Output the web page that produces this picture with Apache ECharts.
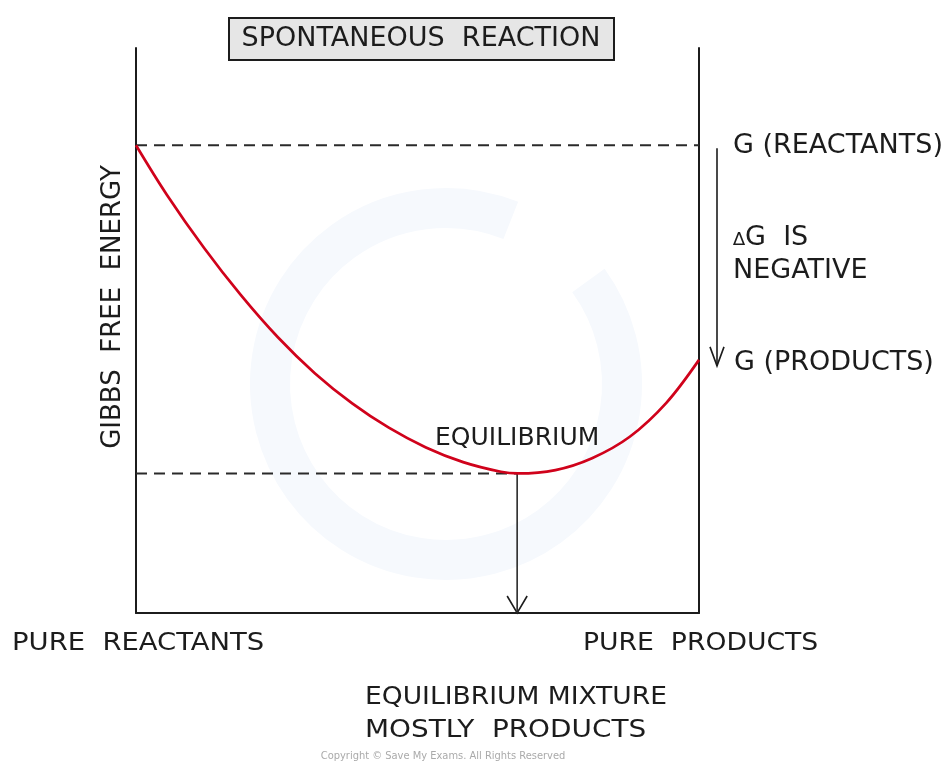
<!DOCTYPE html>
<html>
<head>
<meta charset="utf-8">
<script src="https://cdn.jsdelivr.net/npm/echarts@6/dist/echarts.min.js"></script>
<style>
html,body{margin:0;padding:0;background:#fff;}
#c{width:952px;height:763px;}
</style>
</head>
<body>
<div id="c"></div>
<script>
// Reaction progress (0 = pure reactants, 1 = pure products)
const progress = [0, 0.055, 0.121, 0.186, 0.252, 0.318, 0.384, 0.449, 0.515, 0.581, 0.648, 0.679, 0.745, 0.810, 0.877, 0.942, 1.0];
// Gibbs free energy (arbitrary units)
const gibbs = [82.8, 74.0, 64.6, 56.3, 48.8, 42.4, 37.1, 32.8, 29.3, 26.7, 25.0, 24.7, 25.3, 27.4, 31.2, 37.2, 44.8];
const gReactants = 82.8;
const gProducts = 44.8;
const xEquilibrium = 0.677;
const gEquilibrium = 24.7;

const titleText = 'SPONTANEOUS  REACTION';
const yAxisTitle = 'GIBBS  FREE  ENERGY';
const leftEndLabel = 'PURE  REACTANTS';
const rightEndLabel = 'PURE  PRODUCTS';
const eqLabel = 'EQUILIBRIUM';
const eqNote = ['EQUILIBRIUM MIXTURE', 'MOSTLY  PRODUCTS'];
const gReactLabel = 'G (REACTANTS)';
const gProdLabel = 'G (PRODUCTS)';
const deltaSymbol = '\u2206';
const deltaLabel = ['G  IS', 'NEGATIVE'];
const copyright = 'Copyright \u00A9 Save My Exams. All Rights Reserved';

const INK = '#1c1c1c';
const RED = '#d0021b';
const FONT = '"DejaVu Sans", sans-serif';
const FONT_C = '"DejaVu Sans Condensed", "DejaVu Sans", sans-serif';

const chart = echarts.init(document.getElementById('c'));
const curveData = progress.map((x, i) => [x, gibbs[i]]);

chart.setOption({
  animation: false,
  grid: {left: 136, right: 253, top: 48, bottom: 150},
  xAxis: {type: 'value', min: 0, max: 1,
    axisLine: {show: true, onZero: false, lineStyle: {color: INK, width: 2}},
    axisTick: {show: false}, axisLabel: {show: false}, splitLine: {show: false}},
  yAxis: [
    {type: 'value', min: 0, max: 100, position: 'left',
      axisLine: {show: true, lineStyle: {color: INK, width: 2}},
      axisTick: {show: false}, axisLabel: {show: false}, splitLine: {show: false}},
    {type: 'value', min: 0, max: 100, position: 'right',
      axisLine: {show: true, lineStyle: {color: INK, width: 2}},
      axisTick: {show: false}, axisLabel: {show: false}, splitLine: {show: false}}
  ],
  series: [
    {type: 'line', data: [[0, gReactants], [1, gReactants]], symbol: 'none', silent: true,
      lineStyle: {color: '#2a2a2a', width: 2, type: [11, 7]}, z: 2},
    {type: 'line', data: [[0, gEquilibrium], [xEquilibrium, gEquilibrium]], symbol: 'none', silent: true,
      lineStyle: {color: '#2a2a2a', width: 2, type: [11, 7]}, z: 2},
    {type: 'line', data: [[xEquilibrium, gEquilibrium], [xEquilibrium, 0]], symbol: 'none', silent: true,
      lineStyle: {color: '#2a2a2a', width: 1.6}, z: 2},
    {type: 'line', data: curveData, smooth: 0.35, symbol: 'none', silent: true,
      lineStyle: {color: RED, width: 2.7}, z: 3}
  ]
});

function px(x, y) { return chart.convertToPixel({gridIndex: 0}, [x, y]); }

const pRight = px(1, 0);
const pEqBottom = px(xEquilibrium, 0);
const pEq = px(xEquilibrium, gEquilibrium);
const pReact = px(1, gReactants);
const pProd = px(1, gProducts);
const arrowX = pRight[0] + 18;
const labelX = pRight[0] + 34;

const g = [];
// faint watermark ring
g.push({type: 'arc', z: -10, shape: {cx: 446, cy: 384, r: 176, startAngle: -Math.PI * 0.2, endAngle: Math.PI * 1.62},
  style: {stroke: '#f6f9fd', lineWidth: 40, fill: null}, silent: true});
// title box
g.push({type: 'rect', shape: {x: 229, y: 18, width: 385, height: 42},
  style: {fill: '#e6e6e6', stroke: INK, lineWidth: 2}});
g.push({type: 'text', x: 421, y: 39, style: {text: titleText, font: '27px ' + FONT,
  fill: INK, textAlign: 'center', textVerticalAlign: 'middle'}});
// equilibrium arrowhead
g.push({type: 'polyline', shape: {points: [[pEqBottom[0] - 10, pEqBottom[1] - 17], [pEqBottom[0], pEqBottom[1]], [pEqBottom[0] + 10, pEqBottom[1] - 17]]},
  style: {stroke: INK, lineWidth: 1.6, fill: null}});
// delta G arrow
g.push({type: 'line', shape: {x1: arrowX, y1: pReact[1] + 3, x2: arrowX, y2: pProd[1] + 6},
  style: {stroke: INK, lineWidth: 1.6}});
g.push({type: 'polyline', shape: {points: [[arrowX - 7, pProd[1] - 13], [arrowX, pProd[1] + 6], [arrowX + 7, pProd[1] - 13]]},
  style: {stroke: INK, lineWidth: 1.6, fill: null}});
// right labels
g.push({type: 'text', x: labelX, y: pReact[1] + 1, style: {text: gReactLabel, font: '27px ' + FONT, fill: INK, textVerticalAlign: 'middle'}});
g.push({type: 'text', x: labelX + 1, y: pProd[1] + 3, style: {text: gProdLabel, font: '27px ' + FONT, fill: INK, textVerticalAlign: 'middle'}});
g.push({type: 'text', x: labelX, y: 238, style: {
  text: '{d|' + deltaSymbol + '}{n|' + deltaLabel[0] + '}',
  rich: {d: {font: '18px ' + FONT, fill: INK, verticalAlign: 'bottom', padding: [0, 0, 2, 0]}, n: {font: '27px ' + FONT, fill: INK}},
  textVerticalAlign: 'middle'}});
g.push({type: 'text', x: labelX, y: 271, style: {text: deltaLabel[1], font: '27px ' + FONT, fill: INK, textVerticalAlign: 'middle'}});
// equilibrium label
g.push({type: 'text', x: pEq[0], y: 438, style: {text: eqLabel, font: '25px ' + FONT, fill: INK, textAlign: 'center', textVerticalAlign: 'middle'}});
// y axis title
g.push({type: 'text', x: 113, y: 307, rotation: Math.PI / 2,
  style: {text: yAxisTitle, font: '26px ' + FONT, fill: INK, textAlign: 'center', textVerticalAlign: 'middle'}});
// bottom labels (condensed font stretched horizontally to match the wide lettering)
g.push({type: 'text', x: 12, y: 643, scaleX: 1.22, style: {text: leftEndLabel, font: '25px ' + FONT_C, fill: INK, textVerticalAlign: 'middle'}});
g.push({type: 'text', x: 583, y: 643, scaleX: 1.185, style: {text: rightEndLabel, font: '25px ' + FONT_C, fill: INK, textVerticalAlign: 'middle'}});
g.push({type: 'text', x: 365, y: 697, scaleX: 1.18, style: {text: eqNote[0], font: '25px ' + FONT_C, fill: INK, textVerticalAlign: 'middle'}});
g.push({type: 'text', x: 365, y: 730, scaleX: 1.24, style: {text: eqNote[1], font: '25px ' + FONT_C, fill: INK, textVerticalAlign: 'middle'}});
g.push({type: 'text', x: 443, y: 756, style: {text: copyright, font: '11px ' + FONT_C, fill: '#aaa', textAlign: 'center', textVerticalAlign: 'middle'}});

chart.setOption({graphic: g});
</script>
</body>
</html>
